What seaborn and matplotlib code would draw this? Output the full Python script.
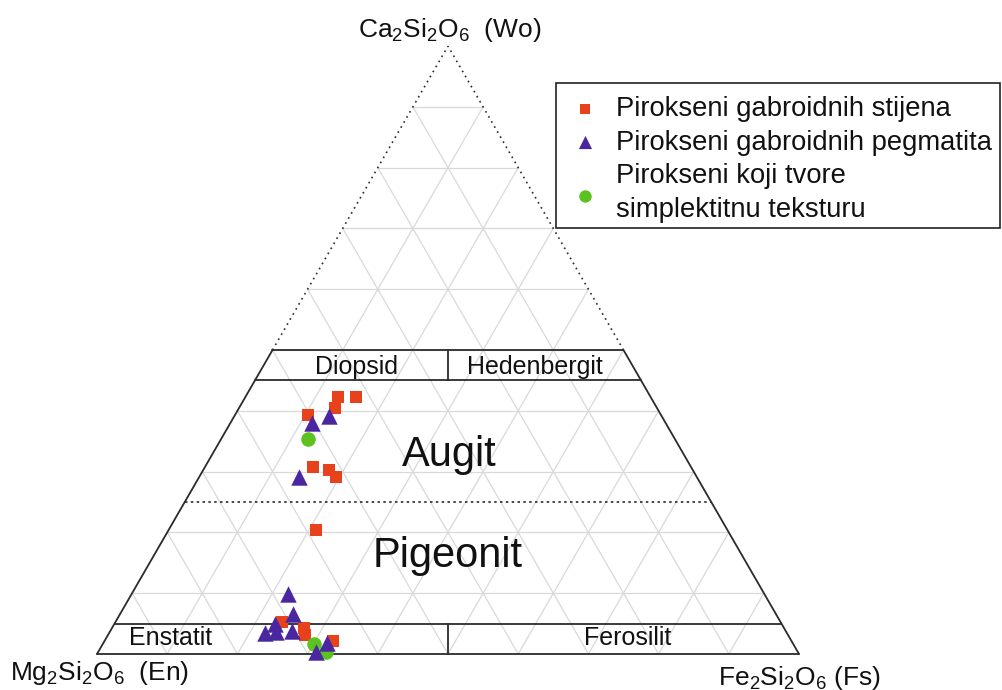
import numpy as np
import pandas as pd
import matplotlib
matplotlib.use("Agg")
import matplotlib.pyplot as plt
from matplotlib.patches import Rectangle
import seaborn as sns

# Pyroxene compositions (mol %): Wo, En, Fs
gab_wo = [42.3, 42.3, 40.5, 39.3, 30.8, 30.3, 29.1, 20.4, 5.3, 4.3, 3.1, 2.1]
gab_en = [44.5, 42.0, 45.9, 50.3, 53.8, 51.8, 51.4, 58.6, 71.0, 68.4, 68.8, 65.3]
gab_fs = [13.2, 15.7, 13.6, 10.4, 15.4, 17.9, 19.5, 21.0, 23.7, 27.3, 28.1, 32.6]

peg_wo = [39.1, 38.0, 29.1, 9.9, 6.6, 4.9, 3.5, 3.6, 3.8, 1.8, 0.3]
peg_en = [47.4, 50.4, 56.7, 67.8, 68.8, 72.2, 74.3, 72.7, 70.3, 66.3, 68.6]
peg_fs = [13.5, 11.6, 14.2, 22.3, 24.6, 22.9, 22.2, 23.7, 25.9, 31.9, 31.1]

sim_wo = [35.4, 1.6, 0.3]
sim_en = [52.2, 68.3, 67.3]
sim_fs = [12.4, 30.1, 32.4]

series_labels = ["Pirokseni gabroidnih stijena",
                 "Pirokseni gabroidnih pegmatita",
                 "Pirokseni koji tvore\nsimplektitnu teksturu"]

# Quadrilateral field names
field_names = ["Diopsid", "Hedenbergit", "Augit", "Pigeonit", "Enstatit", "Ferosilit"]
vertex_labels = [r"Ca$_2$Si$_2$O$_6$  (Wo)", r"Mg$_2$Si$_2$O$_6$  (En)", r"Fe$_2$Si$_2$O$_6$ (Fs)"]

H = np.sqrt(3) / 2


def to_xy(wo, en, fs):
    wo = np.asarray(wo, float)
    en = np.asarray(en, float)
    fs = np.asarray(fs, float)
    tot = wo + en + fs
    wo, fs = wo / tot, fs / tot
    return fs + wo / 2, wo * H


sns.set_theme(style="white")
plt.rcParams["font.family"] = ["Liberation Sans", "DejaVu Sans"]
plt.rcParams["mathtext.fontset"] = "custom"
plt.rcParams["mathtext.rm"] = "Liberation Sans"
plt.rcParams["mathtext.default"] = "rm"

W_PX, H_PX = 1003, 690
SIDE = 702.0
X0, Y0 = 97.0, 654.0

fig = plt.figure(figsize=(W_PX / 100, H_PX / 100), dpi=100)
ax = fig.add_axes([0, 0, 1, 1])
ax.set_xlim(-X0 / SIDE, (W_PX - X0) / SIDE)
ax.set_ylim(-(H_PX - Y0) / SIDE, Y0 / SIDE)
ax.axis("off")


def P(px, py):
    """pixel-style placement helper for annotations"""
    return (px - X0) / SIDE, (Y0 - py) / SIDE


# light 10 % grid
gcol, glw = "#d9d9d9", 0.9
for i in range(1, 10):
    t = i / 10
    ax.plot([t / 2, 1 - t / 2], [t * H, t * H], color=gcol, lw=glw, zorder=1)
    ax.plot([t, t + (1 - t) / 2], [0, (1 - t) * H], color=gcol, lw=glw, zorder=1)
    ax.plot([1 - t, (1 - t) / 2], [0, (1 - t) * H], color=gcol, lw=glw, zorder=1)

# outline: solid lower half, dotted upper half
lc, llw = "#2b2b2b", 1.3
ax.plot([0, 1], [0, 0], color=lc, lw=llw, zorder=2)
ax.plot([0, 0.25], [0, 0.5 * H], color=lc, lw=llw, zorder=2)
ax.plot([1, 0.75], [0, 0.5 * H], color=lc, lw=llw, zorder=2)
ax.plot([0.25, 0.5], [0.5 * H, H], color=lc, lw=1.2, ls=(0, (1, 2.5)), zorder=2)
ax.plot([0.75, 0.5], [0.5 * H, H], color=lc, lw=1.2, ls=(0, (1, 2.5)), zorder=2)


def wo_line(w, **kw):
    ax.plot([w / 2, 1 - w / 2], [w * H, w * H], zorder=2, **kw)


for w in (0.05, 0.45, 0.5):
    wo_line(w, color=lc, lw=llw)
wo_line(0.25, color=lc, lw=1.2, ls=(0, (1.5, 2)))
ax.plot([0.5, 0.5], [0, 0.05 * H], color=lc, lw=llw, zorder=2)
ax.plot([0.5, 0.5], [0.45 * H, 0.5 * H], color=lc, lw=llw, zorder=2)

# field names
ax.text(*P(357, 367), field_names[0], fontsize=18, ha="center", va="center", color="#111")
ax.text(*P(535, 367), field_names[1], fontsize=18, ha="center", va="center", color="#111")
ax.text(*P(449, 466), field_names[2], fontsize=30, ha="center", va="baseline", color="#111")
ax.text(*P(448, 567), field_names[3], fontsize=30, ha="center", va="baseline", color="#111")
ax.text(*P(171, 638), field_names[4], fontsize=18, ha="center", va="center", color="#111")
ax.text(*P(628, 638), field_names[5], fontsize=18, ha="center", va="center", color="#111")

# end-member labels
ax.text(*P(450, 37), vertex_labels[0], fontsize=19, ha="center", va="baseline", color="#111")
ax.text(*P(10, 680), vertex_labels[1], fontsize=19, ha="left", va="baseline", color="#111")
ax.text(*P(718, 685), vertex_labels[2], fontsize=19, ha="left", va="baseline", color="#111")

# data
gx, gy = to_xy(gab_wo, gab_en, gab_fs)
px_, py_ = to_xy(peg_wo, peg_en, peg_fs)
sx, sy = to_xy(sim_wo, sim_en, sim_fs)

df_g = pd.DataFrame({"x": gx, "y": gy})
df_p = pd.DataFrame({"x": px_, "y": py_})
df_s = pd.DataFrame({"x": sx, "y": sy})

sns.scatterplot(data=df_g, x="x", y="y", marker="s", s=85, color="#e8421c",
                linewidth=0, label=series_labels[0], zorder=5, ax=ax)
sns.scatterplot(data=df_p, x="x", y="y", marker="^", s=140, color="#4a27a0",
                linewidth=0, label=series_labels[1], zorder=7, ax=ax)
sns.scatterplot(data=df_s, x="x", y="y", marker="o", s=110, color="#5cc21f",
                linewidth=0, label=series_labels[2], zorder=6, ax=ax)
ax.set_xlabel("")
ax.set_ylabel("")

# legend box
ax.add_patch(Rectangle((556 / W_PX, 1 - 228 / H_PX), 444 / W_PX, 145 / H_PX,
                       transform=fig.transFigure, fill=False,
                       edgecolor="#222222", lw=1.2, zorder=8, clip_on=False))
leg = ax.legend(loc="upper left", bbox_to_anchor=(567 / W_PX, 1 - 96 / H_PX),
                bbox_transform=fig.transFigure, borderaxespad=0, frameon=False,
                fontsize=19.7, handlelength=1.3, handletextpad=0.5,
                borderpad=0, labelspacing=0.28, scatterpoints=1)
leg.set_zorder(9)
for h, s in zip(leg.legend_handles, [60, 90, 80]):
    h.set_sizes([s])
for t in leg.get_texts():
    t.set_color("#111")
    t.set_linespacing(1.36)

fig.savefig("out.png", dpi=100)
